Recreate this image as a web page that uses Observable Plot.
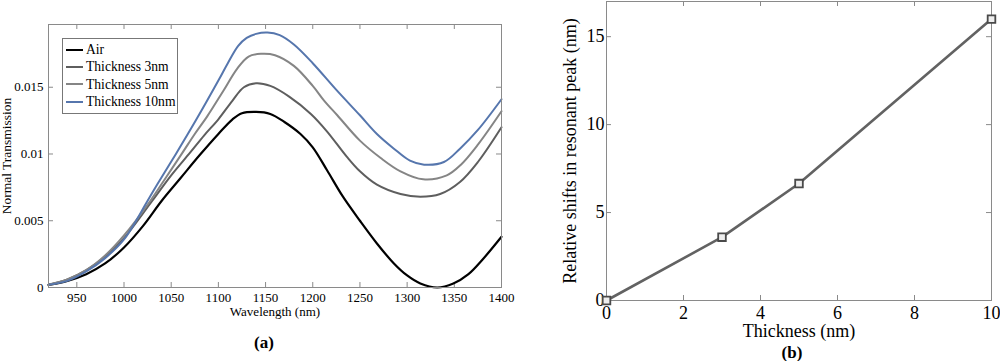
<!DOCTYPE html>
<html><head><meta charset="utf-8">
<script src="https://cdn.jsdelivr.net/npm/d3@7"></script>
<script src="https://cdn.jsdelivr.net/npm/@observablehq/plot@0.6"></script>
<style>
html,body{margin:0;padding:0;background:#fff;}
body{width:1000px;height:361px;overflow:hidden;position:relative;font-family:"Liberation Serif","Times New Roman",serif;color:#000;}
#a{position:absolute;left:0;top:0;}
#b{position:absolute;left:540px;top:0;}
.lab{position:absolute;font-weight:bold;font-size:17px;transform:translate(-50%,-50%);white-space:nowrap;}
#legend{position:absolute;left:62px;top:38px;width:114px;height:72px;border:1px solid #777;background:#fff;padding-top:2px;box-sizing:content-box;}
#legend .row{height:17.3px;line-height:17.3px;font-size:13.6px;display:flex;align-items:center;white-space:nowrap;}
#legend .sw{width:17px;height:0;border-top:2px solid #000;margin-left:3px;margin-right:3px;}
</style></head><body>
<div id="a"></div>
<div id="b"></div>
<div id="legend"></div>
<div class="lab" style="left:264px;top:343px">(a)</div>
<div class="lab" style="left:792px;top:353px">(b)</div>
<script>
// ---------- Panel (a) data ----------
const seriesNames = ["Air", "Thickness 3nm", "Thickness 5nm", "Thickness 10nm"];
const seriesColors = ["#000000", "#5e5e5e", "#858585", "#5676ad"];

const airWl = [920, 940, 960, 980, 1000, 1020, 1040, 1060, 1080, 1100, 1115, 1125, 1140, 1155, 1170, 1187, 1200, 1215, 1232, 1250, 1268, 1286, 1300, 1314, 1332, 1349, 1365, 1380, 1400];
const airT  = [0.0002, 0.0005, 0.0010, 0.0018, 0.0030, 0.0046, 0.0065, 0.0082, 0.0099, 0.0115, 0.0126, 0.01305, 0.01315, 0.0130, 0.0124, 0.0115, 0.0105, 0.0088, 0.0068, 0.0050, 0.0033, 0.0018, 0.0009, 0.0003, 0.0000, 0.0003, 0.0010, 0.0021, 0.0038];

const t3Wl = [920, 940, 960, 980, 1000, 1030, 1050, 1070, 1085, 1100, 1115, 1127, 1140, 1155, 1175, 1198, 1215, 1236, 1250, 1268, 1293, 1314, 1335, 1356, 1375, 1400];
const t3T  = [0.0002, 0.0006, 0.0013, 0.0023, 0.0037, 0.0065, 0.0084, 0.0101, 0.0114, 0.0126, 0.0140, 0.0150, 0.0153, 0.0151, 0.0143, 0.0130, 0.0117, 0.0098, 0.0087, 0.0077, 0.0070, 0.0068, 0.0070, 0.0079, 0.0094, 0.0120];

const t5Wl = [920, 940, 960, 980, 1000, 1028, 1045, 1062, 1075, 1088, 1105, 1120, 1132, 1145, 1160, 1180, 1200, 1212, 1226, 1250, 1272, 1293, 1317, 1342, 1357, 1375, 1400];
const t5T  = [0.0002, 0.0006, 0.0013, 0.0024, 0.0039, 0.0065, 0.0083, 0.0101, 0.0115, 0.0128, 0.0147, 0.0164, 0.0173, 0.0175, 0.0174, 0.0166, 0.0151, 0.0140, 0.0129, 0.0110, 0.0097, 0.0087, 0.0081, 0.0084, 0.0092, 0.0107, 0.0132];

const t10Wl = [920, 940, 960, 980, 1000, 1025, 1035, 1055, 1076, 1100, 1110, 1121, 1130, 1140, 1152, 1165, 1180, 1200, 1225, 1250, 1268, 1286, 1303, 1318, 1339, 1356, 1375, 1400];
const t10T  = [0.0002, 0.0005, 0.0012, 0.0022, 0.0036, 0.0065, 0.0077, 0.0100, 0.0125, 0.0155, 0.0168, 0.0181, 0.0187, 0.0190, 0.0191, 0.0189, 0.0182, 0.0168, 0.0148, 0.0129, 0.0115, 0.0104, 0.0095, 0.0092, 0.0094, 0.0104, 0.0118, 0.0141];

const xTicksA = [950, 1000, 1050, 1100, 1150, 1200, 1250, 1300, 1350, 1400];
const yTicksA = [0, 0.005, 0.01, 0.015];

// ---------- Panel (b) data ----------
const thickness = [0, 3, 5, 10];
const shift = [0, 3.6, 6.65, 16.0];
const xTicksB = [0, 2, 4, 6, 8, 10];
const yTicksB = [0, 5, 10, 15];

// ---------- Panel (a) ----------
const seriesData = [
  {wl: airWl, t: airT},
  {wl: t3Wl, t: t3T},
  {wl: t5Wl, t: t5T},
  {wl: t10Wl, t: t10T}
];
const rowsA = seriesData.flatMap((s, k) => s.wl.map((w, i) => ({name: seriesNames[k], wl: w, t: s.t[i]})));

const WA = 520, HA = 330;
const mA = {top: 24, right: 19, bottom: 43, left: 48};
const fwA = WA - mA.left - mA.right, fhA = HA - mA.top - mA.bottom;
const axisColor = "#8a8a8a";
const serif = '"Liberation Serif","Times New Roman",serif';

const plotA = Plot.plot({
  width: WA, height: HA,
  marginTop: mA.top, marginRight: mA.right, marginBottom: mA.bottom, marginLeft: mA.left,
  style: {fontFamily: serif, fontSize: "13px", background: "white", color: "black", overflow: "visible"},
  x: {domain: [920, 1400]},
  y: {domain: [0, 0.0197]},
  marks: [
    Plot.ruleX(xTicksA, {x: d => d, insetTop: fhA - 5, stroke: axisColor}),
    Plot.ruleX(xTicksA, {x: d => d, insetBottom: fhA - 5, stroke: axisColor}),
    Plot.ruleY(yTicksA, {y: d => d, insetRight: fwA - 5, stroke: axisColor}),
    Plot.ruleY(yTicksA, {y: d => d, insetLeft: fwA - 5, stroke: axisColor}),
    Plot.axisX(xTicksA, {tickSize: 0, tickPadding: 5, label: null, tickFormat: d => String(d), fontSize: 13}),
    Plot.axisY(yTicksA, {tickSize: 0, tickPadding: 5, label: null, tickFormat: d => String(d), fontSize: 13}),
    ...seriesNames.map((n, k) => Plot.line(rowsA.filter(r => r.name === n), {
      x: "wl", y: "t", stroke: seriesColors[k], strokeWidth: k === 0 ? 2.2 : 2, curve: "catmull-rom"
    })),
    Plot.frame({stroke: axisColor}),
    Plot.text(["Wavelength (nm)"], {frameAnchor: "bottom", dy: 24, lineAnchor: "middle", textAnchor: "middle", fontSize: 13}),
    Plot.text(["Normal Transmission"], {frameAnchor: "left", dx: -42, rotate: -90, textAnchor: "middle", lineAnchor: "middle", fontSize: 13.5})
  ]
});
document.getElementById("a").appendChild(plotA);

// legend
const leg = document.getElementById("legend");
seriesNames.forEach((n, k) => {
  const row = document.createElement("div");
  row.className = "row";
  const sw = document.createElement("span");
  sw.className = "sw";
  sw.style.borderTopColor = seriesColors[k];
  const tx = document.createElement("span");
  tx.textContent = n;
  row.appendChild(sw); row.appendChild(tx);
  leg.appendChild(row);
});

// ---------- Panel (b) ----------
const rowsB = thickness.map((t, i) => ({t, s: shift[i]}));
const WB = 460, HB = 340;
const mB = {top: 1, right: 9, bottom: 40, left: 66};
const fwB = WB - mB.left - mB.right, fhB = HB - mB.top - mB.bottom;

const plotB = Plot.plot({
  width: WB, height: HB,
  marginTop: mB.top, marginRight: mB.right, marginBottom: mB.bottom, marginLeft: mB.left,
  style: {fontFamily: serif, fontSize: "18px", background: "white", color: "black", overflow: "visible"},
  x: {domain: [0, 10]},
  y: {domain: [0, 17]},
  marks: [
    Plot.ruleX(xTicksB, {x: d => d, insetTop: fhB - 5, stroke: axisColor}),
    Plot.ruleX(xTicksB, {x: d => d, insetBottom: fhB - 5, stroke: axisColor}),
    Plot.ruleY(yTicksB, {y: d => d, insetRight: fwB - 5, stroke: axisColor}),
    Plot.ruleY(yTicksB, {y: d => d, insetLeft: fwB - 5, stroke: axisColor}),
    Plot.axisX(xTicksB, {tickSize: 0, tickPadding: 6, label: null, tickFormat: d => String(d), fontSize: 18}),
    Plot.axisY(yTicksB, {tickSize: 0, tickPadding: 2, label: null, tickFormat: d => String(d), fontSize: 18}),
    Plot.frame({stroke: axisColor}),
    Plot.line(rowsB, {x: "t", y: "s", stroke: "#626262", strokeWidth: 2.6}),
    Plot.dot(rowsB, {x: "t", y: "s", symbol: "square", r: 4.3, stroke: "#4a4a4a", strokeWidth: 1.8, fill: "#eeeeee"}),
    Plot.text(["Thickness (nm)"], {frameAnchor: "bottom", dy: 31, lineAnchor: "middle", textAnchor: "middle", fontSize: 18}),
    Plot.text(["Relative shifts in resonant peak (nm)"], {frameAnchor: "left", dx: -36, rotate: -90, textAnchor: "middle", lineAnchor: "middle", fontSize: 18})
  ]
});
document.getElementById("b").appendChild(plotB);
</script>
</body></html>
